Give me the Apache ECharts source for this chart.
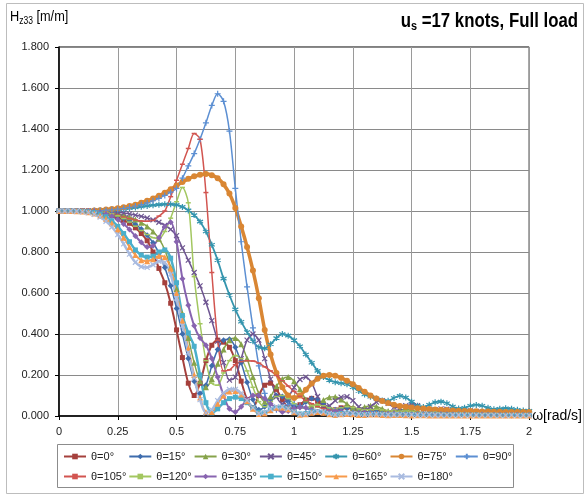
<!DOCTYPE html>
<html>
<head>
<meta charset="utf-8">
<script src="https://cdn.jsdelivr.net/npm/echarts@6/dist/echarts.min.js"></script>
<style>
html, body { margin: 0; padding: 0; background: #fff; }
#chart { width: 585px; height: 495px; }
</style>
</head>
<body>
<div id="chart"></div>
<script>
// Heave transfer function H_z33 versus wave frequency for 13 headings.
const omega = [0,0.025,0.05,0.075,0.1,0.125,0.15,0.175,0.2,0.225,
  0.25,0.275,0.3,0.325,0.35,0.375,0.4,0.425,0.45,0.475,
  0.5,0.525,0.55,0.575,0.6,0.625,0.65,0.675,0.7,0.725,
  0.75,0.775,0.8,0.825,0.85,0.875,0.9,0.925,0.95,0.975,
  1,1.025,1.05,1.075,1.1,1.125,1.15,1.175,1.2,1.225,
  1.25,1.275,1.3,1.325,1.35,1.375,1.4,1.425,1.45,1.475,
  1.5,1.525,1.55,1.575,1.6,1.625,1.65,1.675,1.7,1.725,
  1.75,1.775,1.8,1.825,1.85,1.875,1.9,1.925,1.95,1.975,
  2];

const h0 = [1,1,1,1,1,0.999,0.996,0.992,0.985,0.978,
  0.968,0.955,0.94,0.918,0.89,0.855,0.8,0.72,0.65,0.55,
  0.42,0.285,0.16,0.1,0.16,0.27,0.345,0.37,0.36,0.335,
  0.27,0.17,0.08,0.04,0.1,0.15,0.16,0.13,0.08,0.04,
  0.035,0.055,0.078,0.086,0.072,0.048,0.03,0.03,0.04,0.042,
  0.035,0.022,0.015,0.02,0.025,0.022,0.015,0.01,0.012,0.015,
  0.014,0.01,0.008,0.01,0.012,0.011,0.008,0.006,0.008,0.01,
  0.009,0.007,0.006,0.007,0.008,0.007,0.006,0.005,0.006,0.007,
  0.006];
const h15 = [1,1,1,1,1,1,0.998,0.995,0.99,0.984,
  0.976,0.965,0.952,0.935,0.912,0.882,0.845,0.795,0.725,0.635,
  0.525,0.4,0.28,0.17,0.11,0.15,0.245,0.325,0.37,0.375,
  0.335,0.26,0.165,0.08,0.03,0.045,0.08,0.1,0.095,0.07,
  0.045,0.045,0.068,0.085,0.08,0.06,0.038,0.03,0.035,0.04,
  0.035,0.025,0.018,0.02,0.022,0.018,0.012,0.01,0.012,0.014,
  0.012,0.009,0.008,0.009,0.01,0.009,0.007,0.006,0.007,0.008,
  0.007,0.006,0.005,0.006,0.007,0.006,0.005,0.005,0.006,0.006,
  0.005];
const h30 = [1,1,1,1,1,1,0.999,0.997,0.994,0.99,
  0.985,0.978,0.97,0.958,0.943,0.925,0.9,0.865,0.81,0.725,
  0.62,0.5,0.38,0.26,0.17,0.14,0.18,0.255,0.325,0.37,
  0.38,0.35,0.28,0.19,0.11,0.07,0.095,0.145,0.18,0.19,
  0.17,0.13,0.08,0.05,0.055,0.078,0.092,0.094,0.08,0.058,
  0.04,0.035,0.044,0.05,0.046,0.035,0.025,0.024,0.03,0.032,
  0.028,0.02,0.016,0.018,0.02,0.018,0.014,0.012,0.013,0.014,
  0.013,0.011,0.01,0.011,0.012,0.011,0.01,0.009,0.01,0.01,
  0.01];
const h45 = [1,1,1,1,1,1,1,0.999,0.998,0.996,
  0.994,0.99,0.986,0.98,0.974,0.966,0.957,0.945,0.93,0.91,
  0.88,0.82,0.76,0.7,0.635,0.555,0.465,0.365,0.26,0.175,
  0.19,0.28,0.37,0.4,0.37,0.28,0.18,0.095,0.06,0.09,
  0.14,0.178,0.19,0.16,0.095,0.048,0.05,0.075,0.092,0.094,
  0.075,0.045,0.03,0.045,0.068,0.075,0.062,0.042,0.04,0.05,
  0.055,0.05,0.035,0.028,0.03,0.035,0.033,0.025,0.02,0.022,
  0.025,0.022,0.017,0.015,0.017,0.018,0.015,0.012,0.013,0.014,
  0.012];
const h60 = [1,1,1,1,1,1,1.001,1.002,1.003,1.005,
  1.007,1.01,1.013,1.017,1.021,1.025,1.028,1.031,1.033,1.033,
  1.03,1.02,1.003,0.98,0.948,0.9,0.835,0.76,0.67,0.59,
  0.52,0.46,0.41,0.365,0.335,0.33,0.35,0.38,0.4,0.392,
  0.37,0.34,0.3,0.26,0.22,0.19,0.175,0.165,0.16,0.155,
  0.14,0.122,0.105,0.094,0.085,0.076,0.074,0.088,0.098,0.09,
  0.07,0.05,0.044,0.055,0.067,0.07,0.062,0.046,0.036,0.04,
  0.05,0.054,0.05,0.04,0.033,0.035,0.038,0.035,0.03,0.027,
  0.025];
const h75 = [1,1,1,1,1,1,1.002,1.004,1.007,1.01,
  1.013,1.018,1.024,1.031,1.04,1.05,1.061,1.074,1.089,1.106,
  1.124,1.141,1.157,1.169,1.177,1.18,1.175,1.16,1.13,1.085,
  1.015,0.925,0.825,0.71,0.575,0.42,0.3,0.21,0.14,0.1,
  0.088,0.1,0.128,0.158,0.182,0.196,0.2,0.196,0.186,0.172,
  0.155,0.137,0.118,0.1,0.085,0.073,0.063,0.055,0.049,0.045,
  0.041,0.038,0.036,0.034,0.032,0.03,0.029,0.027,0.026,0.025,
  0.024,0.023,0.022,0.022,0.021,0.021,0.02,0.02,0.02,0.02,
  0.02];
const h90 = [1,1,1,1,1,1,1.001,1.002,1.004,1.006,
  1.009,1.013,1.018,1.024,1.031,1.04,1.05,1.062,1.076,1.092,
  1.11,1.16,1.22,1.28,1.35,1.43,1.515,1.572,1.535,1.39,
  1.11,0.85,0.63,0.43,0.245,0.11,0.04,0.03,0.045,0.055,
  0.058,0.05,0.038,0.025,0.02,0.025,0.03,0.028,0.02,0.015,
  0.016,0.018,0.016,0.012,0.01,0.011,0.012,0.01,0.008,0.009,
  0.01,0.009,0.007,0.007,0.008,0.007,0.006,0.006,0.007,0.006,
  0.005,0.005,0.006,0.005,0.005,0.005,0.005,0.004,0.005,0.005,
  0.004];
const h105 = [1,1,1,1,1,1,0.999,0.997,0.993,0.987,
  0.98,0.971,0.963,0.956,0.951,0.95,0.954,0.975,1.0,1.07,
  1.15,1.228,1.305,1.378,1.35,1.09,0.7,0.37,0.22,0.225,
  0.25,0.265,0.27,0.268,0.258,0.24,0.22,0.198,0.172,0.146,
  0.12,0.096,0.076,0.06,0.046,0.036,0.03,0.025,0.022,0.02,
  0.018,0.016,0.015,0.014,0.013,0.012,0.012,0.011,0.01,0.01,
  0.009,0.009,0.008,0.008,0.008,0.007,0.007,0.007,0.006,0.006,
  0.006,0.006,0.005,0.005,0.005,0.005,0.005,0.005,0.004,0.004,
  0.004];
const h120 = [1,1,1,1,1,1,0.999,0.997,0.993,0.986,
  0.977,0.963,0.946,0.926,0.905,0.885,0.87,0.866,0.9,0.965,
  1.045,1.115,1.04,0.68,0.45,0.27,0.16,0.15,0.21,0.27,
  0.295,0.28,0.22,0.14,0.07,0.045,0.07,0.095,0.1,0.085,
  0.06,0.04,0.04,0.05,0.055,0.05,0.04,0.035,0.04,0.045,
  0.042,0.035,0.03,0.03,0.032,0.03,0.025,0.022,0.022,0.024,
  0.022,0.018,0.016,0.017,0.018,0.016,0.014,0.013,0.014,0.014,
  0.013,0.012,0.011,0.012,0.012,0.011,0.01,0.01,0.01,0.01,
  0.01];
const h135 = [1,1,1,1,1,1,0.997,0.993,0.985,0.974,
  0.958,0.937,0.91,0.878,0.847,0.824,0.83,0.87,0.925,0.945,
  0.85,0.67,0.54,0.44,0.38,0.345,0.28,0.19,0.1,0.035,
  0.02,0.045,0.08,0.1,0.1,0.085,0.06,0.035,0.02,0.025,
  0.035,0.042,0.04,0.03,0.02,0.015,0.02,0.025,0.022,0.015,
  0.012,0.014,0.016,0.014,0.01,0.009,0.011,0.012,0.01,0.008,
  0.008,0.009,0.008,0.007,0.006,0.007,0.007,0.006,0.005,0.006,
  0.006,0.005,0.005,0.005,0.005,0.005,0.004,0.004,0.005,0.004,
  0.004];
const h150 = [1,1,1,0.999,0.998,0.996,0.992,0.985,0.972,0.952,
  0.925,0.89,0.85,0.81,0.785,0.775,0.78,0.8,0.81,0.77,
  0.65,0.49,0.405,0.34,0.2,0.065,0.015,0.035,0.065,0.085,
  0.092,0.085,0.065,0.04,0.018,0.015,0.028,0.04,0.042,0.035,
  0.02,0.01,0.012,0.02,0.022,0.018,0.01,0.008,0.012,0.014,
  0.01,0.007,0.007,0.009,0.009,0.007,0.005,0.006,0.007,0.006,
  0.005,0.004,0.005,0.005,0.004,0.004,0.004,0.004,0.004,0.003,
  0.003,0.004,0.003,0.003,0.003,0.003,0.003,0.003,0.003,0.003,
  0.003];
const h165 = [1,1,1,0.999,0.997,0.994,0.988,0.978,0.962,0.94,
  0.91,0.87,0.825,0.785,0.76,0.755,0.765,0.78,0.775,0.72,
  0.6,0.465,0.33,0.2,0.09,0.02,0.02,0.06,0.1,0.12,
  0.122,0.105,0.072,0.035,0.01,0.012,0.028,0.04,0.042,0.033,
  0.018,0.006,0.008,0.016,0.02,0.016,0.008,0.005,0.008,0.01,
  0.008,0.005,0.005,0.007,0.007,0.005,0.004,0.005,0.005,0.004,
  0.003,0.004,0.004,0.003,0.003,0.003,0.003,0.003,0.002,0.003,
  0.003,0.002,0.002,0.002,0.002,0.002,0.002,0.002,0.002,0.002,
  0.002];
const h180 = [1,1,1,0.999,0.996,0.992,0.984,0.97,0.95,0.922,
  0.885,0.84,0.79,0.75,0.728,0.725,0.738,0.755,0.748,0.69,
  0.575,0.44,0.31,0.185,0.08,0.015,0.03,0.075,0.11,0.13,
  0.13,0.11,0.076,0.04,0.012,0.018,0.034,0.045,0.045,0.036,
  0.02,0.008,0.01,0.018,0.023,0.02,0.012,0.006,0.008,0.012,
  0.012,0.009,0.007,0.008,0.009,0.008,0.006,0.006,0.007,0.007,
  0.006,0.005,0.005,0.006,0.005,0.005,0.004,0.005,0.005,0.004,
  0.004,0.004,0.004,0.004,0.004,0.003,0.003,0.004,0.003,0.003,
  0.003];

const headings = ['θ=0°','θ=15°','θ=30°','θ=45°','θ=60°','θ=75°','θ=90°',
  'θ=105°','θ=120°','θ=135°','θ=150°','θ=165°','θ=180°'];
const values = [h0,h15,h30,h45,h60,h75,h90,h105,h120,h135,h150,h165,h180];

const xTicks = [0,0.25,0.5,0.75,1,1.25,1.5,1.75,2];
const yTicks = [0,0.2,0.4,0.6,0.8,1,1.2,1.4,1.6,1.8];

const FONT = 'Liberation Sans, Arial, sans-serif';

const X_MARK = 'path://M0,0L10,10M10,0L0,10';
const PLUS_MARK = 'path://M5,0L5,10M0,5L10,5';
const STAR_MARK = 'path://M5,0L5,10M0,2.5L10,7.5M10,2.5L0,7.5';

// colour, marker, marker size, stroked marker, line width
const looks = [
  ['#A5403C', 'rect', 5, false, 2],
  ['#3E6CAD', 'diamond', 6, false, 1.5],
  ['#86A34A', 'triangle', 6, false, 1.5],
  ['#6E5591', X_MARK, 5, true, 1.5],
  ['#3595AE', STAR_MARK, 6, true, 1.8],
  ['#D98633', 'circle', 6, false, 3.5],
  ['#5C8FD2', PLUS_MARK, 6, true, 1.5],
  ['#D25550', 'rect', [5, 1.5], false, 1.5],
  ['#A3C760', 'rect', [5, 1.5], false, 1.5],
  ['#8864B0', 'diamond', 6, false, 2],
  ['#4AAFCB', 'rect', 5, false, 2.5],
  ['#F79A4B', 'triangle', 6, false, 2],
  ['#A9BBE0', X_MARK, 5, true, 2.5]
];

const series = headings.map((name, i) => {
  const [color, symbol, size, stroked, width] = looks[i];
  return {
    name: name,
    type: 'line',
    data: omega.map((w, k) => [w, values[i][k]]),
    symbol: symbol,
    symbolSize: size,
    showSymbol: true,
    smooth: 0.3,
    lineStyle: { color: color, width: width },
    itemStyle: { color: color, borderColor: color, borderWidth: stroked ? 1.2 : 0 },
    emphasis: { disabled: true }
  };
});

// one legend per entry so the two rows keep a fixed column pitch
const legends = headings.map((name, i) => ({
  data: [name],
  left: 63 + (i % 7) * 65.3,
  top: i < 7 ? 451 : 471,
  padding: 0,
  itemWidth: 22,
  itemHeight: 7,
  itemGap: 0,
  selectedMode: false,
  textStyle: { fontSize: 11, color: '#222', fontFamily: FONT }
}));

const chart = echarts.init(document.getElementById('chart'), null, { renderer: 'canvas' });
chart.setOption({
  animation: false,
  backgroundColor: '#fff',
  legend: legends,
  grid: { left: 59, right: 53, top: 47, bottom: 79, show: true, borderColor: '#000', borderWidth: 1 },
  xAxis: {
    type: 'value',
    min: xTicks[0],
    max: xTicks[xTicks.length - 1],
    interval: 0.25,
    name: 'ω[rad/s]',
    nameLocation: 'end',
    nameGap: 3,
    nameTextStyle: { fontSize: 14, color: '#000', fontFamily: FONT },
    axisLine: { show: true, lineStyle: { color: '#000', width: 1.5 } },
    axisTick: { show: true, length: 4, lineStyle: { color: '#000' } },
    axisLabel: { fontSize: 11, color: '#222', fontFamily: FONT, margin: 10 },
    splitLine: { show: true, lineStyle: { color: '#9a9a9a', width: 1 } }
  },
  yAxis: {
    type: 'value',
    min: yTicks[0],
    max: yTicks[yTicks.length - 1],
    interval: 0.2,
    axisLine: { show: true, lineStyle: { color: '#000', width: 1.5 } },
    axisTick: { show: true, length: 4, lineStyle: { color: '#000' } },
    axisLabel: { fontSize: 11, color: '#222', fontFamily: FONT, margin: 10,
      formatter: v => v.toFixed(3) },
    splitLine: { show: true, lineStyle: { color: '#8a8a8a', width: 1 } }
  },
  graphic: [
    { type: 'rect', silent: true, shape: { x: 6.5, y: 3.5, width: 577, height: 490 },
      style: { fill: 'none', stroke: '#bdbdbd', lineWidth: 1 } },
    { type: 'rect', silent: true, shape: { x: 57.5, y: 444.5, width: 456, height: 43 },
      style: { fill: 'none', stroke: '#8c8c8c', lineWidth: 1 } },
    // chart title, condensed horizontally and anchored at its right edge
    { type: 'text', x: 578, y: 9, scaleX: 0.84, silent: true,
      style: {
        text: '{u|u}{s|s}{u| =17 knots, Full load}',
        align: 'right',
        verticalAlign: 'top',
        rich: {
          u: { fontSize: 20, fontWeight: 'bold', fontFamily: FONT, fill: '#000', lineHeight: 24 },
          s: { fontSize: 13, fontWeight: 'bold', fontFamily: FONT, fill: '#000', lineHeight: 13, verticalAlign: 'bottom' }
        }
      }
    },
    // vertical axis caption
    { type: 'text', x: 10, y: 8, scaleX: 0.85, silent: true,
      style: {
        text: '{h|H}{z|z33}{h| [m/m]}',
        align: 'left',
        verticalAlign: 'top',
        rich: {
          h: { fontSize: 15, fontFamily: FONT, fill: '#000', lineHeight: 18 },
          z: { fontSize: 10, fontFamily: FONT, fill: '#000', lineHeight: 10, verticalAlign: 'bottom' }
        }
      }
    }
  ],
  series: series
});
</script>
</body>
</html>
